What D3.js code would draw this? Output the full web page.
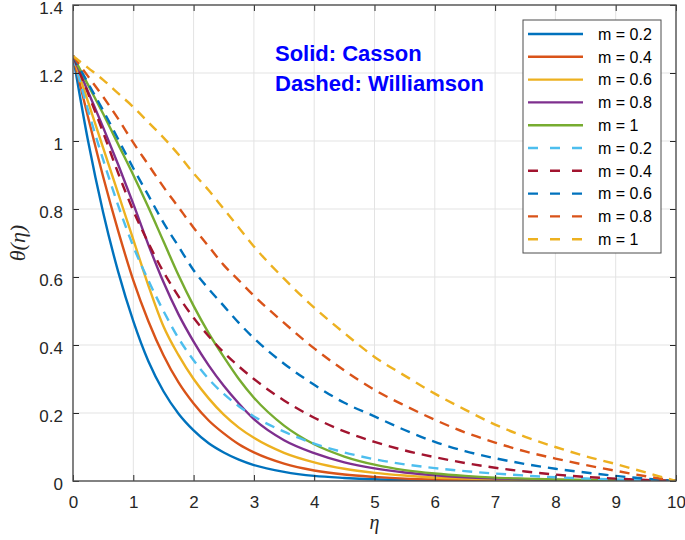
<!DOCTYPE html>
<html>
<head>
<meta charset="utf-8">
<script src="https://cdn.jsdelivr.net/npm/d3@7"></script>
<style>
  html, body { margin: 0; padding: 0; background: #fff; }
  svg { display: block; }
  text { font-family: "Liberation Sans", Arial, Helvetica, sans-serif; }
</style>
</head>
<body>
<svg id="chart" width="685" height="540"></svg>
<script>
// ---------- data ----------
const eta = [0,0.25,0.5,0.75,1,1.25,1.5,1.75,2,2.25,2.5,2.75,3,3.5,4,4.5,5,5.5,6,6.5,7,7.5,8,8.5,9,9.5,10];

const cassonM02 = [1.25,1.0,0.79,0.615,0.47,0.352,0.264,0.198,0.149,0.111,0.084,0.063,0.047,0.027,0.015,0.009,0.005,0.003,0.002,0.0013,0.0009,0.0006,0.0004,0.0003,0.0002,0.0001,0];
const cassonM04 = [1.25,1.07,0.895,0.735,0.59,0.47,0.37,0.29,0.228,0.178,0.14,0.108,0.084,0.051,0.031,0.019,0.012,0.007,0.0045,0.003,0.002,0.0013,0.0008,0.0005,0.0003,0.0001,0];
const cassonM06 = [1.25,1.115,0.98,0.845,0.71,0.575,0.455,0.37,0.30,0.243,0.195,0.157,0.127,0.083,0.055,0.036,0.024,0.016,0.01,0.007,0.0045,0.003,0.002,0.0012,0.0007,0.0003,0];
const cassonM08 = [1.25,1.145,1.04,0.93,0.815,0.695,0.585,0.49,0.41,0.34,0.28,0.228,0.182,0.12,0.082,0.055,0.037,0.025,0.017,0.011,0.0075,0.005,0.003,0.002,0.001,0.0005,0];
const cassonM10 = [1.25,1.165,1.08,0.99,0.90,0.805,0.705,0.605,0.515,0.435,0.365,0.30,0.245,0.163,0.108,0.072,0.048,0.032,0.022,0.015,0.01,0.007,0.0045,0.003,0.0015,0.0008,0];

const williamsonM02 = [1.25,1.09,0.945,0.81,0.69,0.59,0.50,0.42,0.355,0.30,0.256,0.22,0.19,0.145,0.11,0.084,0.064,0.049,0.038,0.029,0.022,0.016,0.011,0.0075,0.0045,0.002,0];
const williamsonM04 = [1.25,1.14,1.025,0.905,0.795,0.70,0.615,0.543,0.48,0.426,0.378,0.337,0.30,0.237,0.186,0.146,0.115,0.09,0.07,0.053,0.039,0.028,0.019,0.012,0.007,0.003,0];
const williamsonM06 = [1.25,1.17,1.09,1.005,0.92,0.84,0.76,0.69,0.62,0.565,0.515,0.465,0.42,0.345,0.283,0.23,0.19,0.15,0.115,0.088,0.067,0.05,0.036,0.025,0.015,0.007,0];
const williamsonM08 = [1.25,1.19,1.13,1.065,0.995,0.93,0.865,0.805,0.745,0.69,0.635,0.59,0.545,0.465,0.39,0.325,0.268,0.222,0.18,0.143,0.113,0.087,0.066,0.047,0.03,0.014,0];
const williamsonM10 = [1.25,1.215,1.18,1.14,1.10,1.055,1.01,0.96,0.905,0.855,0.80,0.745,0.69,0.595,0.51,0.435,0.365,0.31,0.257,0.21,0.166,0.13,0.10,0.073,0.05,0.025,0];

const seriesLabels = ["m = 0.2","m = 0.4","m = 0.6","m = 0.8","m = 1","m = 0.2","m = 0.4","m = 0.6","m = 0.8","m = 1"];
const seriesValues = [cassonM02,cassonM04,cassonM06,cassonM08,cassonM10,williamsonM02,williamsonM04,williamsonM06,williamsonM08,williamsonM10];
const seriesDashed = [false,false,false,false,false,true,true,true,true,true];
const seriesColors = ["#0072BD","#D95319","#EDB120","#7E2F8E","#77AC30","#4DBEEE","#A2142F","#0072BD","#D95319","#EDB120"];

const xTicks = [0,1,2,3,4,5,6,7,8,9,10];
const yTicks = [0,0.2,0.4,0.6,0.8,1,1.2,1.4];
const annotationLines = ["Solid: Casson","Dashed: Williamson"];

// ---------- layout ----------
const L = 73, R = 676, T = 5, B = 481;
const svg = d3.select("#chart");
const x = d3.scaleLinear().domain([0,10]).range([L,R]);
const y = d3.scaleLinear().domain([0,1.4]).range([B,T]);
const axisColor = "#262626";

svg.append("rect").attr("x",L).attr("y",T).attr("width",R-L).attr("height",B-T).attr("fill","#fff");

// grid
const grid = svg.append("g");
grid.selectAll("line.gx").data(xTicks.slice(1,-1)).enter().append("line")
  .attr("x1",d=>x(d)).attr("x2",d=>x(d)).attr("y1",T).attr("y2",B)
  .attr("stroke","#e3e3e3").attr("stroke-width",1);
grid.selectAll("line.gy").data(yTicks.slice(1,-1)).enter().append("line")
  .attr("x1",L).attr("x2",R).attr("y1",d=>y(d)).attr("y2",d=>y(d))
  .attr("stroke","#e3e3e3").attr("stroke-width",1);

// curves
svg.append("clipPath").attr("id","clip").append("rect")
  .attr("x",L).attr("y",T).attr("width",R-L).attr("height",B-T);
const line = d3.line().x(d=>x(d[0])).y(d=>y(d[1])).curve(d3.curveMonotoneX);
const curves = svg.append("g").attr("clip-path","url(#clip)");
seriesValues.forEach((vals,i)=>{
  curves.append("path")
    .datum(eta.map((e,j)=>[e,vals[j]]))
    .attr("d",line)
    .attr("fill","none")
    .attr("stroke",seriesColors[i])
    .attr("stroke-width",2.4)
    .attr("stroke-dasharray",seriesDashed[i] ? "10,7" : null);
});

// axes
function styleAxis(g){
  g.select(".domain").remove();
  g.selectAll(".tick line").attr("stroke",axisColor).attr("stroke-width",1);
  g.selectAll(".tick text").attr("fill",axisColor).style("font-size","17px")
    .style("font-family","'Liberation Sans', Arial, sans-serif");
}
const fmt = d=>String(+d.toFixed(1));
svg.append("g").attr("transform",`translate(0,${B})`)
  .call(d3.axisBottom(x).tickValues(xTicks).tickFormat(fmt).tickSizeInner(-6).tickSizeOuter(0).tickPadding(15))
  .call(styleAxis);
svg.append("g").attr("transform",`translate(${L},0)`)
  .call(d3.axisLeft(y).tickValues(yTicks).tickFormat(fmt).tickSizeInner(-6).tickSizeOuter(0).tickPadding(10))
  .call(styleAxis)
  .call(g=>g.selectAll(".tick text").attr("dy","0.5em"));
svg.append("g").attr("transform",`translate(0,${T})`)
  .call(d3.axisTop(x).tickValues(xTicks).tickFormat("").tickSizeInner(-6).tickSizeOuter(0))
  .call(styleAxis);
svg.append("g").attr("transform",`translate(${R},0)`)
  .call(d3.axisRight(y).tickValues(yTicks).tickFormat("").tickSizeInner(-6).tickSizeOuter(0))
  .call(styleAxis);

svg.append("rect").attr("x",L).attr("y",T).attr("width",R-L).attr("height",B-T)
  .attr("fill","none").attr("stroke","#4d4d4d").attr("stroke-width",1.4);

// axis labels
svg.append("text").attr("x",(L+R)/2).attr("y",529).attr("text-anchor","middle")
  .style("font-family","'Liberation Serif','Times New Roman',serif").style("font-style","italic")
  .style("font-size","20px").attr("fill",axisColor).text("η");
svg.append("text").attr("transform",`translate(25,${(T+B)/2}) rotate(-90)`).attr("text-anchor","middle")
  .style("font-family","'Liberation Serif','Times New Roman',serif").style("font-style","italic")
  .style("font-size","22px").attr("fill",axisColor).text("θ(η)");

// annotation
svg.append("g").selectAll("text").data(annotationLines).enter().append("text")
  .attr("x",275).attr("y",(d,i)=>61+i*30)
  .style("font-size","22px").style("font-weight","bold").attr("fill","#0000FF")
  .text(d=>d);

// legend
const lg = svg.append("g");
lg.append("rect").attr("x",523).attr("y",20).attr("width",138).attr("height",233)
  .attr("fill","#fff").attr("stroke","#4d4d4d").attr("stroke-width",1);
seriesLabels.forEach((lab,i)=>{
  const yy = 34 + i*22.8;
  lg.append("line").attr("x1",528).attr("x2",583).attr("y1",yy).attr("y2",yy)
    .attr("stroke",seriesColors[i]).attr("stroke-width",2.4)
    .attr("stroke-dasharray",seriesDashed[i] ? "10,12" : null);
  lg.append("text").attr("x",598).attr("y",yy).attr("dy","0.36em")
    .style("font-size","16px").attr("fill","#000").text(lab);
});
</script>
</body>
</html>
